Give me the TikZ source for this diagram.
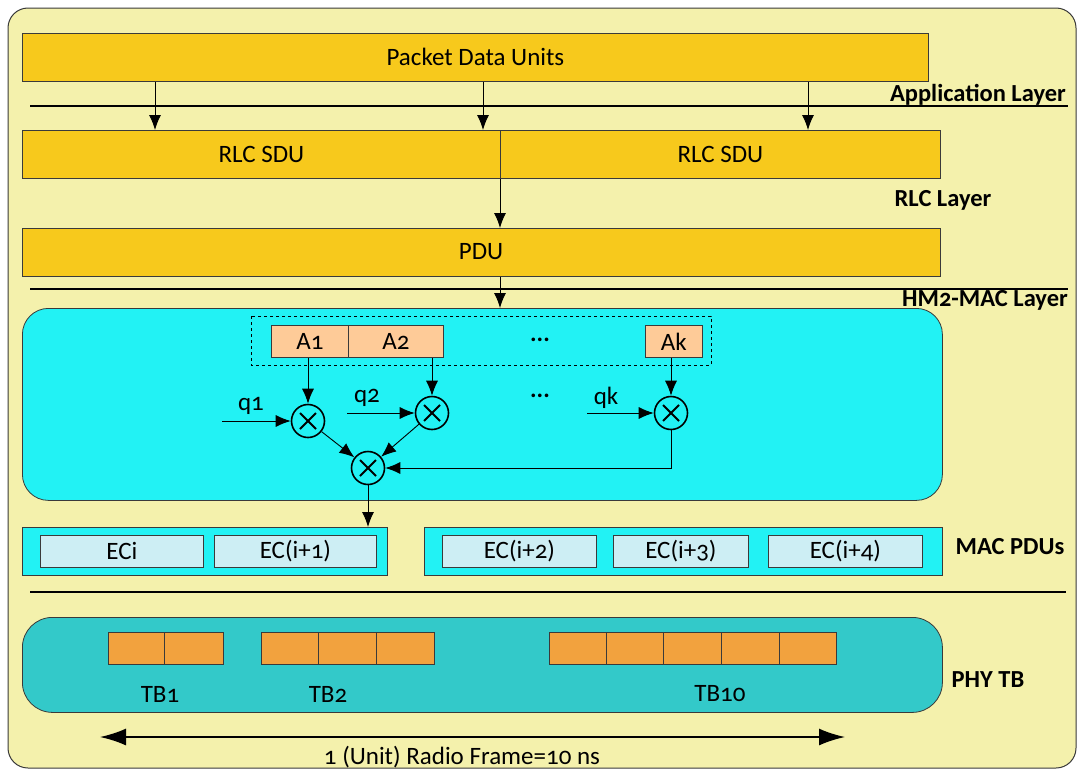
\documentclass[tikz,border=0pt]{standalone}
\usepackage{fontspec}
\setmainfont{Carlito}[Numbers=OldStyle]
\usetikzlibrary{arrows.meta,calc}
\definecolor{bgyel}{HTML}{F4F1AC}
\definecolor{gold}{HTML}{F7C91C}
\definecolor{cyanf}{HTML}{22F2F4}
\definecolor{tealf}{HTML}{33C9C9}
\definecolor{tborange}{HTML}{F2A23E}
\definecolor{ecblue}{HTML}{CDEEF4}
\definecolor{apeach}{HTML}{FECB98}
\definecolor{edgegray}{HTML}{3A3A3A}
\tikzset{
  txt/.style={font=\fontsize{25}{29}\selectfont},
  lbl/.style={font=\fontsize{24.5}{29}\selectfont\bfseries},
  goldbox/.style={draw=edgegray,fill=gold,line width=0.8pt},
  apbox/.style={draw=edgegray,fill=apeach,line width=0.8pt},
  ecbox/.style={draw=edgegray,fill=ecblue,line width=0.8pt},
  macbox/.style={draw=edgegray,fill=cyanf,line width=0.8pt},
  tbcell/.style={draw=edgegray,fill=tborange,line width=0.8pt},
  sep/.style={line width=2.4pt},
  arr/.style={line width=0.9pt,-{Latex[length=15pt,width=12pt]}},
  mult/.style={circle,draw,line width=1.6pt,minimum size=33pt,inner sep=0pt,
    path picture={
      \draw[line width=1.8pt] ([shift={(-8pt,-8pt)}]path picture bounding box.center) -- ([shift={(8pt,8pt)}]path picture bounding box.center);
      \draw[line width=1.8pt] ([shift={(-8pt,8pt)}]path picture bounding box.center) -- ([shift={(8pt,-8pt)}]path picture bounding box.center);
    }},
}
\begin{document}
\begin{tikzpicture}[x=1pt,y=-1pt]
\useasboundingbox (0,0) rectangle (1081,771);
% outer
\draw[draw=edgegray,fill=bgyel,line width=1pt,rounded corners=20pt] (8,8) rectangle (1076,768);

% Application
\node[goldbox,minimum width=906pt,minimum height=48pt,anchor=north west,inner sep=0pt] (pdu0) at (22,33) {};
\node[txt] (pdutext) at (pdu0.center) {Packet Data Units};
\draw[sep] (30,106) -- (1068,106);
\node[lbl,anchor=base east,inner sep=0pt] (applbl) at (1066,101) {Application Layer};

% RLC
\node[goldbox,minimum width=478pt,minimum height=48pt,anchor=north west,inner sep=0pt,txt] (sdu1) at (22,130) {RLC SDU};
\node[goldbox,minimum width=440pt,minimum height=48pt,anchor=north west,inner sep=0pt,txt] (sdu2) at (500,130) {RLC SDU};
\node[lbl,anchor=center] (rlclbl) at (943,200) {RLC Layer};
\draw[arr] (pdu0.south -| 155,0) -- (sdu1.north -| 155,0);
\draw[arr] (pdu0.south -| 483,0) -- (sdu1.north -| 483,0);
\draw[arr] (pdu0.south -| 808,0) -- (sdu2.north -| 808,0);

\node[goldbox,minimum width=918pt,minimum height=48pt,anchor=north west,inner sep=0pt] (pdu) at (22,228) {};
\node[txt] (pdulbl) at (481,252) {PDU};
\draw[arr] (sdu2.south west) -- (pdu.north -| sdu2.south west);

\draw[sep] (30,289) -- (1068,289);
\node[lbl,anchor=base east,inner sep=0pt] (maclbl) at (1068,306) {HM2-MAC Layer};

% MAC box
\node[macbox,rounded corners=26pt,minimum width=920pt,minimum height=192pt,anchor=north west,inner sep=0pt] (mac) at (22,308) {};
\draw[arr] (pdu.south -| 500,0) -- (mac.north -| 500,0);

\draw[dashed,line width=0.7pt] (251,316) rectangle (711,365);
\node[apbox,minimum width=77pt,minimum height=32pt,anchor=north west,inner sep=0pt,txt] (a1) at (271,325) {A1};
\node[apbox,minimum width=95pt,minimum height=32pt,anchor=north west,inner sep=0pt,txt] (a2) at (348,325) {A2};
\node[apbox,minimum width=57pt,minimum height=32pt,anchor=north west,inner sep=0pt,txt] (ak) at (645,325) {Ak};
\node[lbl] (dots1) at (540,340) {...};

\node[mult] (m1) at (308,421) {};
\node[mult] (m2) at (432,413) {};
\node[mult] (mk) at (671,413) {};
\node[mult] (m0) at (368,468) {};

\draw[arr] (a1.south -| m1) -- (m1.north);
\draw[arr] (a2.south -| m2) -- (m2.north);
\draw[arr] (ak.south -| mk) -- (mk.north);

\coordinate (q1s) at (222,421);
\coordinate (q2s) at (347,413);
\coordinate (qks) at (587,413);
\draw[arr] (q1s) -- (m1.west);
\draw[arr] (q2s) -- (m2.west);
\draw[arr] (qks) -- (mk.west);
\node[txt] (q1) at (251,406) {q1};
\node[txt] (q2) at (367,398) {q2};
\node[txt] (qk) at (606,398) {qk};
\node[lbl] (dots2) at (540,396) {...};

\draw[arr] (m1) -- (m0);
\draw[arr] (m2) -- (m0);
\draw[arr] (mk.south) |- (m0.east);

% MAC PDUs
\node[macbox,minimum width=365pt,minimum height=48pt,anchor=north west,inner sep=0pt] (mp1) at (22,527) {};
\node[macbox,minimum width=518pt,minimum height=48pt,anchor=north west,inner sep=0pt] (mp2) at (424,527) {};
\draw[arr] (m0.south) -- (mp1.north -| m0);
\node[ecbox,minimum width=163pt,minimum height=32pt,anchor=north west,inner sep=0pt,txt] (ec1) at (40,535) {ECi};
\node[ecbox,minimum width=162pt,minimum height=32pt,anchor=north west,inner sep=0pt,txt] (ec2) at (214,535) {EC(i+1)};
\node[ecbox,minimum width=154pt,minimum height=32pt,anchor=north west,inner sep=0pt,txt] (ec3) at (442,535) {EC(i+2)};
\node[ecbox,minimum width=135pt,minimum height=32pt,anchor=north west,inner sep=0pt,txt] (ec4) at (613,535) {EC(i+3)};
\node[ecbox,minimum width=154pt,minimum height=32pt,anchor=north west,inner sep=0pt,txt] (ec5) at (768,535) {EC(i+4)};
\node[lbl] (macpdulbl) at (1010,547) {MAC PDUs};

\draw[sep] (30,592) -- (1066,592);

% PHY
\node[draw=edgegray,fill=tealf,line width=0.8pt,rounded corners=30pt,minimum width=920pt,minimum height=95pt,anchor=north west,inner sep=0pt] (phy) at (22,617) {};
\foreach \x/\w [count=\i] in {108/56,164/59,261/57,318/58,376/58,549/57,606/57,663/58,721/58,779/57}{
  \node[tbcell,minimum width=\w pt,minimum height=32pt,anchor=north west,inner sep=0pt] (tb\i) at (\x,632) {};
}
\node[txt] (tb1l) at (160,694) {TB1};
\node[txt] (tb2l) at (328,694) {TB2};
\node[txt] (tb10l) at (720,694) {TB10};
\node[lbl] (phylbl) at (988,680) {PHY TB};

\coordinate (fl) at (100,737);
\coordinate (fr) at (845,737);
\draw[line width=1.8pt,{Latex[length=26pt,width=17pt]}-{Latex[length=26pt,width=17pt]}] (fl) -- (fr);
\node[txt] (framelbl) at (462,757) {1 (Unit) Radio Frame=10 ns};
\end{tikzpicture}
\end{document}
